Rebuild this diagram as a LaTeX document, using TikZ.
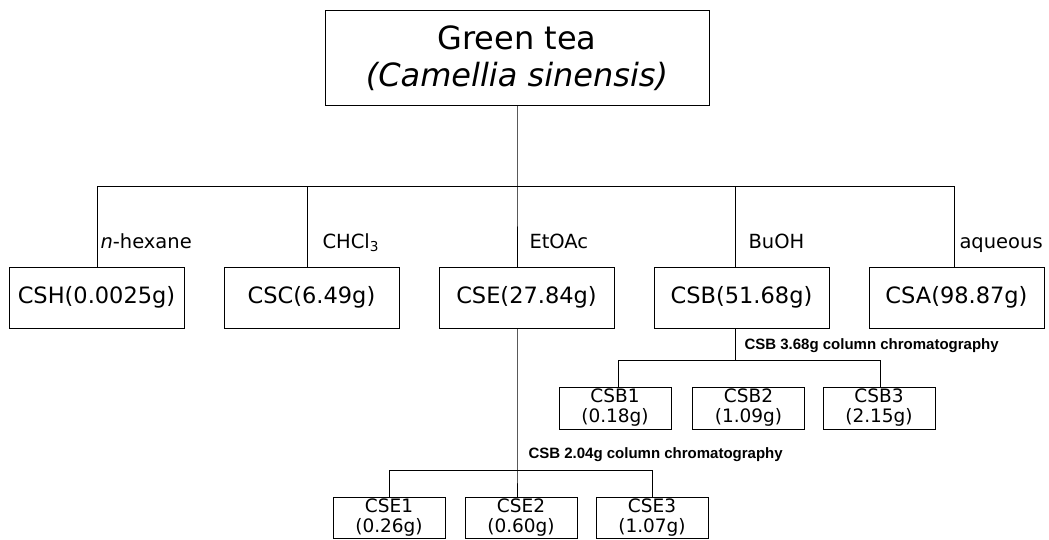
\documentclass[tikz,border=0pt]{standalone}
\usepackage{fontspec}
\setmainfont{DejaVu Sans}
\newfontfamily\notefont{Liberation Sans}
\usetikzlibrary{positioning}

\begin{document}
\begin{tikzpicture}[
        x=1pt, y=-1pt,
        line width=1pt,
        node distance=39pt and 39pt,
        topbox/.style={draw, align=center, inner sep=0pt, minimum width=384pt, minimum height=95pt, font=\fontsize{32}{37}\selectfont},
        box/.style={draw, align=center, inner sep=0pt, minimum width=175pt, minimum height=61pt, font=\fontsize{22.5}{26}\selectfont},
        smallbox/.style={draw, align=center, inner sep=0pt, minimum width=112pt, minimum height=41pt, font=\fontsize{18.5}{20}\selectfont},
        solvent/.style={anchor=base west, inner sep=0pt, font=\fontsize{19.5}{22}\selectfont},
        note/.style={anchor=base west, inner sep=0pt, font=\notefont\bfseries\fontsize{15}{18}\selectfont}
    ]
    \useasboundingbox (0,0) rectangle (1049,540);

    % --- Plant material ---
    \node[topbox] (tea) at (517,58.5) {Green tea\\\textit{(Camellia sinensis)}};

    % --- Solvent fractions ---
    \node[box] (csh) at (96.5,297.5) {CSH(0.0025g)};
    \node[box, right=of csh] (csc) {CSC(6.49g)};
    \node[box, right=of csc] (cse) {CSE(27.84g)};
    \node[box, right=of cse] (csb) {CSB(51.68g)};
    \node[box, right=of csb] (csa) {CSA(98.87g)};

    % --- CSB subfractions ---
    \node[smallbox, minimum height=42pt] (csb1) at (615,408) {CSB1\\(0.18g)};
    \node[smallbox, minimum height=42pt] (csb2) at (748.5,408) {CSB2\\(1.09g)};
    \node[smallbox, minimum height=42pt] (csb3) at (879,408) {CSB3\\(2.15g)};

    % --- CSE subfractions ---
    \node[smallbox] (cse1) at (389,517.5) {CSE1\\(0.26g)};
    \node[smallbox, right=19pt of cse1] (cse2) {CSE2\\(0.60g)};
    \node[smallbox, right=18pt of cse2] (cse3) {CSE3\\(1.07g)};

    % --- Branch points ---
    \coordinate (j1) at (97,187);
    \coordinate (j2) at (307,187);
    \coordinate (j3) at (517,187);
    \coordinate (j4) at (735,187);
    \coordinate (j5) at (954,187);
    \coordinate (b0) at (735,360);
    \coordinate (b1) at (618,360);
    \coordinate (b3) at (880,360);
    \coordinate (e0) at (517,470);
    \coordinate (e1) at (389,470);
    \coordinate (e3) at (652,470);

    % --- Connections ---
    \draw (tea) -- (j3) -- (j3 |- cse.north);
    \draw (j1 |- csh.north) -- (j1) -- (j5) -- (j5 |- csa.north);
    \draw (j2) -- (j2 |- csc.north);
    \draw (j4) -- (j4 |- csb.north);

    \draw (csb.south -| b0) -- (b0);
    \draw (b1 |- csb1.north) -- (b1) -- (b3) -- (b3 |- csb3.north);

    \draw (cse.south -| e0) -- (e0) -- (e0 |- cse2.north);
    \draw (e1 |- cse1.north) -- (e1) -- (e3) -- (e3 |- cse3.north);

    % --- Labels ---
    \node[solvent] (hex) at (100,248) {\textit{n}-hexane};
    \node[solvent] (chl) at (322,248) {CHCl\textsubscript{3}};
    \node[solvent] (eto) at (529,248) {EtOAc};
    \node[solvent] (buo) at (748,248) {BuOH};
    \node[solvent] (aqu) at (959,248) {aqueous};
    \node[note] (colb) at (744,349) {CSB 3.68g column chromatography};
    \node[note] (cole) at (528,458) {CSB 2.04g column chromatography};

\end{tikzpicture}
\end{document}
